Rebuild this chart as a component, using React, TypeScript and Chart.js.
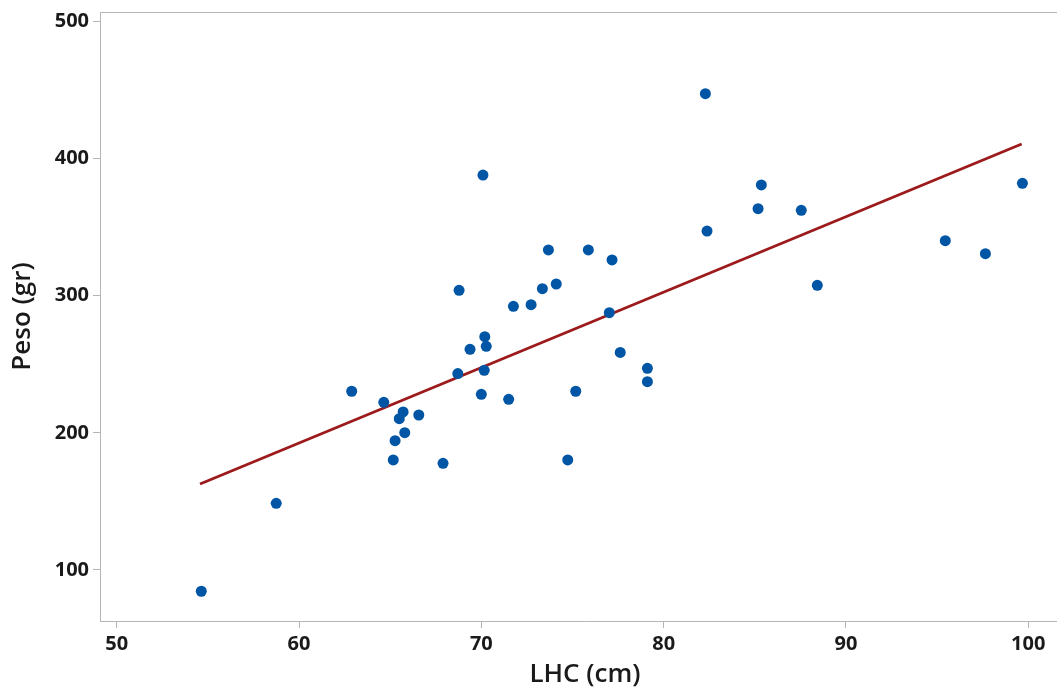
import React, { useEffect, useRef } from 'react';
import { Chart, registerables } from 'chart.js';

Chart.register(...registerables);

// ---- data ----
const lhc = [
  54.64, 58.75, 62.89, 64.65, 65.17, 65.27, 65.5, 65.71, 65.8, 66.57,
  67.9, 68.71, 68.78, 69.38, 70.0, 70.09, 70.19, 70.16, 70.27, 71.5,
  71.76, 72.73, 73.35, 73.68, 74.11, 74.74, 75.18, 75.87, 77.02, 77.17,
  77.62, 79.11, 79.11, 82.29, 82.38, 85.18, 85.36, 87.55, 88.43, 95.45,
  97.65, 99.68,
];
const peso = [
  84.5, 148.6, 230.3, 222.2, 180.2, 194.3, 210.3, 215.2, 200.1, 213.0,
  177.8, 243.2, 303.9, 260.9, 228.1, 387.9, 270.1, 245.6, 263.1, 224.4,
  292.2, 293.4, 305.1, 333.3, 308.5, 180.2, 230.3, 333.3, 287.6, 326.0,
  258.6, 247.0, 237.3, 447.2, 347.1, 363.4, 380.7, 362.2, 307.5, 340.1,
  330.6, 381.9,
];
const fitX = [54.57, 99.64];
const fitY = [162.7, 410.5];

const xTicks = [50, 60, 70, 80, 90, 100];
const yTicks = [100, 200, 300, 400, 500];

const xTitle = 'LHC (cm)';
const yTitle = 'Peso (gr)';

// ---- styling ----
const FONT = "'Open Sans', 'Noto Sans', sans-serif";
const AXIS = '#b5b5b5';
const TEXT = '#1a1a1a';
const POINT = '#0055a5';
const FIT = '#9c1a1c';

const topBorder = {
  id: 'topBorder',
  afterDraw(chart: any) {
    const { ctx, chartArea } = chart;
    ctx.save();
    ctx.strokeStyle = AXIS;
    ctx.lineWidth = 1;
    ctx.beginPath();
    ctx.moveTo(chartArea.left, Math.round(chartArea.top) + 0.5);
    ctx.lineTo(chartArea.right, Math.round(chartArea.top) + 0.5);
    ctx.stroke();
    ctx.restore();
  },
};

export default function App() {
  const ref = useRef<HTMLCanvasElement | null>(null);

  useEffect(() => {
    if (!ref.current) return;
    const chart = new Chart(ref.current, {
      type: 'scatter',
      data: {
        datasets: [
          {
            type: 'scatter',
            data: lhc.map((x, i) => ({ x, y: peso[i] })),
            backgroundColor: POINT,
            borderColor: POINT,
            borderWidth: 0,
            pointRadius: 5.5,
            pointHoverRadius: 5.5,
          },
          {
            type: 'line',
            data: fitX.map((x, i) => ({ x, y: fitY[i] })),
            borderColor: FIT,
            borderWidth: 2.8,
            pointRadius: 0,
            fill: false,
            tension: 0,
          },
        ],
      },
      options: {
        animation: false,
        responsive: false,
        devicePixelRatio: 1,
        layout: { autoPadding: false, padding: { top: 12, right: 0, left: 0, bottom: 0 } },
        plugins: {
          legend: { display: false },
          tooltip: { enabled: false },
        },
        scales: {
          x: {
            type: 'linear',
            min: 49.084,
            max: 102.29,
            afterBuildTicks: (s: any) => {
              s.ticks = xTicks.map((v) => ({ value: v }));
            },
            afterFit: (s: any) => {
              s.height = 69;
              s.paddingLeft = 0;
              s.paddingRight = 0;
            },
            grid: {
              drawOnChartArea: false,
              drawTicks: true,
              tickLength: 7,
              color: AXIS,
              lineWidth: 1,
            },
            border: { display: true, color: AXIS, width: 1 },
            ticks: {
              color: TEXT,
              font: { family: FONT, size: 20, weight: '700' },
              padding: 4,
              maxRotation: 0,
              autoSkip: false,
            },
            title: {
              display: true,
              text: xTitle,
              color: TEXT,
              font: { family: FONT, size: 26, weight: '600' },
              padding: { top: 0, bottom: 0 },
            },
          },
          y: {
            type: 'linear',
            min: 62.82,
            max: 506.78,
            afterBuildTicks: (s: any) => {
              s.ticks = yTicks.map((v) => ({ value: v }));
            },
            afterFit: (s: any) => {
              s.width = 100;
              s.paddingTop = 0;
              s.paddingBottom = 0;
            },
            grid: {
              drawOnChartArea: false,
              drawTicks: true,
              tickLength: 7,
              color: AXIS,
              lineWidth: 1,
            },
            border: { display: true, color: AXIS, width: 1 },
            ticks: {
              color: TEXT,
              font: { family: FONT, size: 20, weight: '700' },
              padding: 4,
              autoSkip: false,
            },
            title: {
              display: true,
              text: yTitle,
              color: TEXT,
              font: { family: FONT, size: 26, weight: '600' },
              padding: { top: 7, bottom: 0 },
            },
          },
        },
      },
      plugins: [topBorder],
    });
    return () => chart.destroy();
  }, []);

  return (
    <div
      style={{
        position: 'fixed',
        left: 0,
        top: 0,
        width: 1057,
        height: 690,
        overflow: 'hidden',
        background: '#ffffff',
      }}
    >
      <canvas ref={ref} width={1070} height={690} style={{ width: 1070, height: 690, display: 'block' }} />
    </div>
  );
}
